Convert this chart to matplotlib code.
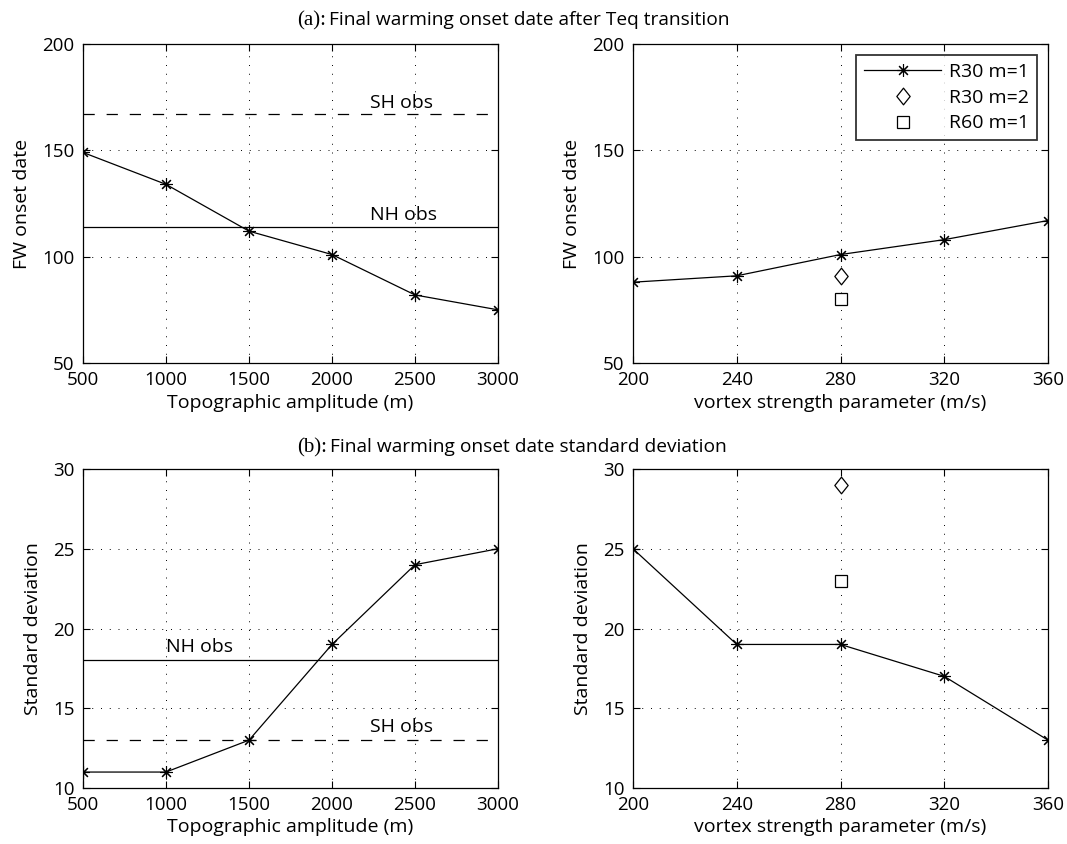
import matplotlib
matplotlib.use("Agg")
import matplotlib.pyplot as plt
from matplotlib.path import Path
import numpy as np

plt.rcParams['font.family'] = ['Open Sans', 'DejaVu Sans']
plt.rcParams['font.size'] = 13

# Topography experiments
topo_amp = [500, 1000, 1500, 2000, 2500, 3000]
topo_onset = [149, 134, 112, 101, 82, 75]
topo_std = [11, 11, 13, 19, 24, 25]

# Vortex strength experiments
vortex = [200, 240, 280, 320, 360]
vortex_onset = [88, 91, 101, 108, 117]
vortex_std = [25, 19, 19, 17, 13]

# Single-run comparisons at 280 m/s
extra_x = [280]
r30m2_onset = [91]
r60m1_onset = [80]
r30m2_std = [29]
r60m1_std = [23]

# Observed values
nh_obs_onset, sh_obs_onset = 114, 167
nh_obs_std, sh_obs_std = 18, 13

W, H = 1067, 844
fig = plt.figure(figsize=(W / 100, H / 100), dpi=100)

def ax_at(x0, y0, x1, y1):
    return fig.add_axes([x0 / W, 1 - y1 / H, (x1 - x0) / W, (y1 - y0) / H])

ax_tl = ax_at(83, 44, 498, 363)
ax_tr = ax_at(633, 44, 1048, 363)
ax_bl = ax_at(83, 469, 498, 788)
ax_br = ax_at(633, 469, 1048, 788)

asterisk = (8, 2, 0)
diamond = Path([(0, 1), (0.8, 0), (0, -1), (-0.8, 0), (0, 1)],
               [Path.MOVETO, Path.LINETO, Path.LINETO, Path.LINETO, Path.CLOSEPOLY])

line_kw = dict(color='black', lw=0.9, marker=asterisk, ms=9, mew=0.8)
dash = (0, (9, 9.5))
LBL = 14

def style(ax, xticks, yticks, ylabel, xlabel):
    ax.set_xlim(xticks[0], xticks[-1])
    ax.set_ylim(yticks[0], yticks[-1])
    ax.set_xticks(xticks)
    ax.set_yticks(yticks)
    ax.tick_params(direction='in', top=True, right=True, length=5, width=0.8,
                   labelsize=13.5, pad=6)
    ax.grid(True, color='black', linestyle=(0, (1, 8)), linewidth=0.7)
    for s in ax.spines.values():
        s.set_linewidth(0.9)
    ax.set_ylabel(ylabel, fontsize=LBL, labelpad=8)
    ax.set_xlabel(xlabel, fontsize=LBL, labelpad=3)

# (a) top-left
ax_tl.plot(topo_amp, topo_onset, **line_kw)
ax_tl.axhline(sh_obs_onset, color='black', lw=0.9, linestyle=dash)
ax_tl.axhline(nh_obs_onset, color='black', lw=0.9)
ax_tl.text(2230, sh_obs_onset + 1.2, 'SH obs', ha='left', va='bottom', fontsize=LBL)
ax_tl.text(2230, nh_obs_onset + 1.2, 'NH obs', ha='left', va='bottom', fontsize=LBL)
style(ax_tl, [500, 1000, 1500, 2000, 2500, 3000], [50, 100, 150, 200],
      'FW onset date', 'Topographic amplitude (m)')

# (a) top-right
l1, = ax_tr.plot(vortex, vortex_onset, label='R30 m=1', **line_kw)
l2, = ax_tr.plot(extra_x, r30m2_onset, ls='none', marker=diamond, ms=12,
                 mfc='white', mec='black', mew=0.9, label='R30 m=2')
l3, = ax_tr.plot(extra_x, r60m1_onset, ls='none', marker='s', ms=8.5,
                 mfc='white', mec='black', mew=0.9, label='R60 m=1')
style(ax_tr, [200, 240, 280, 320, 360], [50, 100, 150, 200],
      'FW onset date', 'vortex strength parameter (m/s)')
leg = ax_tr.legend(handles=[l1, l2, l3], loc='upper right', fontsize=LBL,
                   frameon=True, fancybox=False, edgecolor='black',
                   borderpad=0.4, handlelength=4.0, labelspacing=0.4,
                   handletextpad=0.4, borderaxespad=0,
                   bbox_to_anchor=(0.9735, 0.9655))
leg.get_frame().set_linewidth(1.3)

# (b) bottom-left
ax_bl.plot(topo_amp, topo_std, **line_kw)
ax_bl.axhline(nh_obs_std, color='black', lw=0.9)
ax_bl.axhline(sh_obs_std, color='black', lw=0.9, linestyle=dash)
ax_bl.text(1000, nh_obs_std + 0.25, 'NH obs', ha='left', va='bottom', fontsize=LBL)
ax_bl.text(2230, sh_obs_std + 0.25, 'SH obs', ha='left', va='bottom', fontsize=LBL)
style(ax_bl, [500, 1000, 1500, 2000, 2500, 3000], [10, 15, 20, 25, 30],
      'Standard deviation', 'Topographic amplitude (m)')

# (b) bottom-right
ax_br.plot(vortex, vortex_std, **line_kw)
ax_br.plot(extra_x, r30m2_std, ls='none', marker=diamond, ms=12,
           mfc='white', mec='black', mew=0.9)
ax_br.plot(extra_x, r60m1_std, ls='none', marker='s', ms=8.5,
           mfc='white', mec='black', mew=0.9)
style(ax_br, [200, 240, 280, 320, 360], [10, 15, 20, 25, 30],
      'Standard deviation', 'vortex strength parameter (m/s)')

# Row titles: serif panel tag followed by sans text
def row_title(ybase, tag, text):
    t = fig.text(297 / W, 1 - ybase / H, tag, family='Liberation Serif',
                 fontsize=15, ha='left', va='baseline')
    fig.canvas.draw()
    bb = t.get_window_extent()
    fig.text(bb.x1 / W + 3 / W, 1 - ybase / H, text, fontsize=13.8,
             ha='left', va='baseline')

row_title(25, '(a):', 'Final warming onset date after Teq transition')
row_title(452, '(b):', 'Final warming onset date standard deviation')

fig.savefig('out.png', dpi=100)
